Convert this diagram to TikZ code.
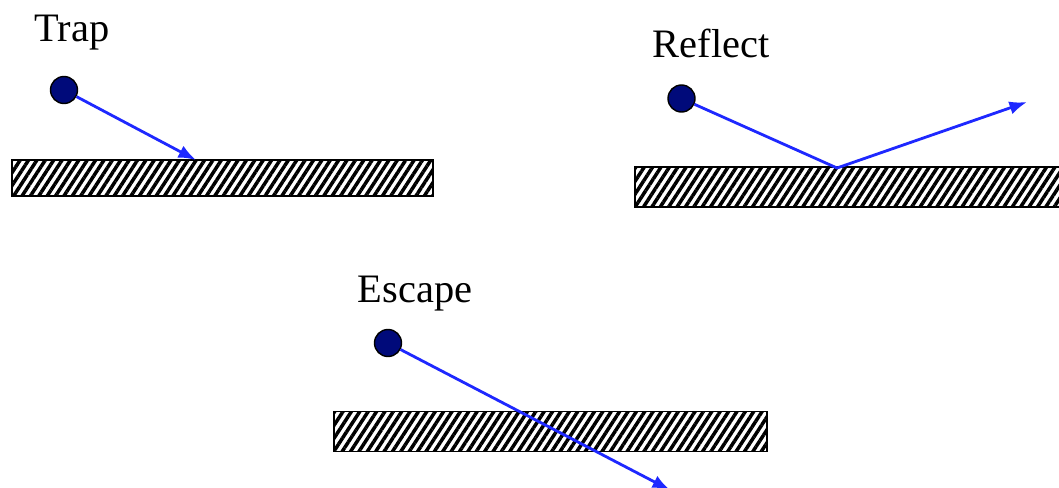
\documentclass[tikz,border=0pt]{standalone}
\usepackage{fontspec}
\setmainfont{Liberation Serif}
\usepackage{tikz}
\usetikzlibrary{arrows.meta, patterns.meta}
\definecolor{ballblue}{HTML}{000A7A}
\definecolor{rayblue}{HTML}{1E28FF}

\begin{document}
\begin{tikzpicture}[every node/.style={font=\fontsize{11.5}{13}\selectfont}]
    \tikzset{
        ball/.style={circle, draw=black, fill=ballblue, line width=0.4pt, minimum size=0.27cm, inner sep=0pt},
        wall/.style={rectangle, draw=black, line width=0.5pt, inner sep=0pt,
            pattern={Lines[angle=57, distance=2pt, line width=1pt]}},
        ray/.style={-{Latex[length=5pt, width=3.8pt]}, rayblue, line width=0.8pt},
        caption/.style={anchor=base, inner sep=0pt}
    }
    \useasboundingbox (0,0) rectangle (10.59,-4.88);
    % Trap
    \node[caption] (traplabel) at (0.72,-0.42) {Trap};
    \node[wall, minimum width=4.21cm, minimum height=0.36cm] (trapwall) at (2.225,-1.78) {};
    \node[ball] (trapball) at (0.64,-0.90) {};
    \coordinate (traphit) at (1.96,-1.60);
    \draw[ray] (trapball) -- (traphit);
    % Reflect
    \node[caption] (refllabel) at (7.11,-0.58) {Reflect};
    \node[wall, minimum width=4.35cm, minimum height=0.40cm] (reflwall) at (8.525,-1.87) {};
    \node[ball] (reflball) at (6.815,-0.985) {};
    \coordinate (reflhit) at (8.37,-1.68);
    \coordinate (reflend) at (10.27,-1.02);
    \draw[ray] (reflball) -- (reflhit) -- (reflend);
    % Escape
    \node[caption] (esclabel) at (4.15,-3.03) {Escape};
    \node[wall, minimum width=4.33cm, minimum height=0.40cm] (escwall) at (5.505,-4.315) {};
    \node[ball] (escball) at (3.88,-3.43) {};
    \coordinate (escend) at (6.70,-4.90);
    \draw[ray] (escball) -- (escend);
\end{tikzpicture}
\end{document}
